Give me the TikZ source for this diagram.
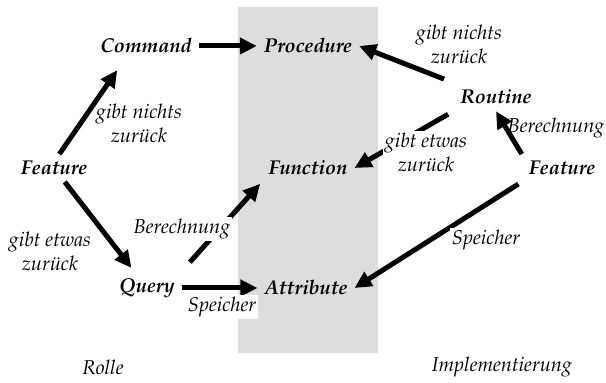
\documentclass[tikz,border=0pt]{standalone}
\usepackage[T1]{fontenc}
\usepackage{mathpazo}
\usetikzlibrary{arrows.meta}
\begin{document}
\begin{tikzpicture}[x=0.5pt,y=-0.5pt,font=\itshape,
  role/.style={font=\bfseries\itshape},
  lbl/.style={fill=white,align=center,inner sep=1pt},
  link/.style={line width=2.5pt,-{Triangle[length=8.5pt,width=8pt]}}]
  \definecolor{impl}{HTML}{DDDDDD}
  \useasboundingbox (0,0) rectangle (606,383);
  % implementation column
  \fill[impl] (238,7) rectangle (378,353);
  % left side: roles
  \node[role] (featL) at (54,168) {Feature};
  \node[role] (command) at (146,46) {Command};
  \node[role] (query) at (147,288) {Query};
  % middle: implementations
  \node[role] (procedure) at (308,46) {Procedure};
  \node[role] (function) at (308,168) {Function};
  \node[role] (attribute) at (306,288) {Attribute};
  % right side
  \node[role] (routine) at (496,97) {Routine};
  \node[role] (featR) at (562,168) {Feature};
  % labels lying under the arrows
  \node[lbl] (nothingL) at (139,123) {gibt nichts\\zurück};
  \node[lbl] (calcR) at (556,128) {Berechnung};
  % arrows
  \draw[link] (command) -- (procedure);
  \draw[link,shorten >=6pt] (featL.69) -- (command.213);
  \draw[link,shorten >=2pt] (featL) -- (query);
  \draw[link] (query) -- (attribute);
  \draw[link,shorten <=6pt,shorten >=1pt] (query.north east) -- (function.south west);
  \draw[link,shorten <=5pt] (routine.north west) -- (procedure.east);
  \draw[link,shorten <=3pt] (routine.south west) -- (function.east);
  \draw[link] (featR.north west) -- (routine.south);
  \draw[link,shorten <=2pt] (featR.south west) -- (attribute.east);
  % labels on top of the arrows
  \node[lbl] (somethingL) at (50,251) {gibt etwas\\zurück};
  \node[lbl] (calcL) at (182,229) {Berechnung};
  \node[lbl] (storeL) at (222,307) {Speicher};
  \node[lbl] (nothingR) at (459,44) {gibt nichts\\zurück};
  \node[lbl] (somethingR) at (426,152) {gibt etwas\\zurück};
  \node[lbl] (storeR) at (486,240) {Speicher};
  % column titles
  \node (rolle) at (103,367) {Rolle};
  \node (impltitle) at (502,367) {Implementierung};
\end{tikzpicture}
\end{document}
